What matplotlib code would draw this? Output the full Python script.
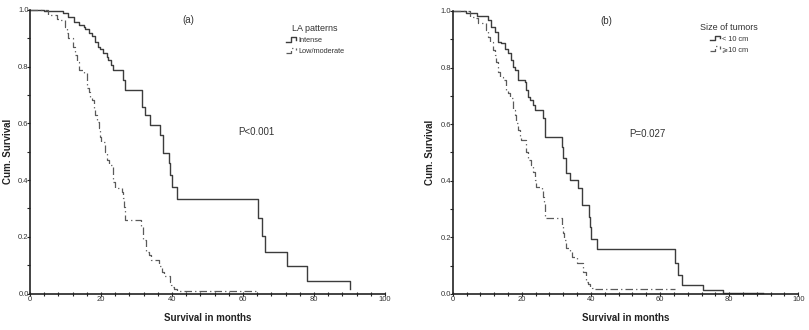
import matplotlib
matplotlib.use("Agg")
import matplotlib.pyplot as plt
from matplotlib.lines import Line2D
from matplotlib.legend_handler import HandlerBase
from matplotlib.ticker import MultipleLocator

plt.rcParams['font.family'] = ['Liberation Sans', 'DejaVu Sans']

# Panel (a): LA patterns, Kaplan-Meier steps (month, survival after the drop)
a_intense_t = [0, 3.8, 9.4, 10.8, 12.5, 13.7, 15.1, 15.5, 16.5, 17.4, 18.2, 19.1, 19.8,
               20.7, 21.7, 22.1, 22.9, 23.5, 26.1, 26.7, 31.5, 32.5, 33.9, 36.7, 37.6,
               39.1, 39.5, 40.0, 41.4, 64.2, 65.3, 66.2, 72.5, 78.0, 90.2]
a_intense_s = [1.0, 0.995, 0.988, 0.976, 0.959, 0.947, 0.941, 0.932, 0.918, 0.908, 0.888,
               0.871, 0.862, 0.847, 0.835, 0.823, 0.806, 0.788, 0.753, 0.718, 0.659, 0.630,
               0.594, 0.559, 0.497, 0.459, 0.418, 0.377, 0.333, 0.265, 0.203, 0.145, 0.096,
               0.045, 0.015]

a_low_t = [0, 5.2, 7.5, 8.5, 9.9, 10.4, 10.8, 12.2, 12.7, 13.2, 13.7, 15.1, 16.0, 16.5,
           17.0, 17.4, 17.9, 18.4, 18.8, 19.3, 19.8, 20.0, 21.2, 21.6, 22.3, 23.3, 23.5,
           23.8, 25.9, 26.1, 26.5, 26.8, 31.4, 31.7, 32.7, 33.4, 34.2, 36.3, 37.2, 37.7,
           39.5, 39.7, 39.9, 40.5, 41.4, 64.0]
a_low_s = [1.0, 0.982, 0.970, 0.965, 0.941, 0.918, 0.900, 0.871, 0.842, 0.818, 0.788,
           0.777, 0.724, 0.712, 0.694, 0.683, 0.647, 0.630, 0.606, 0.583, 0.553, 0.535,
           0.500, 0.471, 0.453, 0.424, 0.394, 0.371, 0.359, 0.336, 0.306, 0.259, 0.233,
           0.189, 0.148, 0.136, 0.118, 0.097, 0.077, 0.060, 0.042, 0.030, 0.024, 0.015,
           0.010, 0.010]

# Panel (b): size of tumors
b_small_t = [0, 3.9, 6.9, 10.2, 11.2, 12.2, 13.1, 14.1, 15.1, 16.0, 17.0, 17.5, 17.9,
             18.9, 20.8, 21.3, 21.8, 22.3, 23.3, 23.7, 26.1, 26.6, 26.8, 31.5, 31.9, 32.9,
             33.9, 36.2, 37.4, 39.3, 39.6, 39.9, 41.7, 64.4, 65.3, 66.3, 72.5, 78.1, 89.8]
b_small_s = [1.0, 0.992, 0.982, 0.968, 0.945, 0.927, 0.892, 0.886, 0.865, 0.850, 0.827,
             0.803, 0.792, 0.756, 0.750, 0.721, 0.697, 0.686, 0.668, 0.650, 0.621, 0.591,
             0.556, 0.520, 0.479, 0.426, 0.403, 0.373, 0.314, 0.273, 0.238, 0.194, 0.159,
             0.108, 0.067, 0.032, 0.014, 0.003, 0.003]

b_large_t = [0, 4.9, 6.4, 7.3, 9.7, 10.2, 10.7, 11.7, 12.2, 12.6, 13.1, 13.6, 14.6, 15.5,
             16.0, 16.5, 17.5, 17.9, 18.4, 18.9, 19.4, 19.9, 21.3, 21.8, 22.6, 23.3, 23.9,
             24.2, 25.7, 26.1, 26.4, 26.8, 31.5, 31.9, 32.2, 32.9, 33.9, 34.5, 36.1, 37.6,
             38.7, 39.1, 39.6, 40.3, 40.8, 64.3]
b_large_s = [1.0, 0.980, 0.974, 0.959, 0.933, 0.909, 0.892, 0.862, 0.845, 0.821, 0.786,
             0.768, 0.756, 0.721, 0.709, 0.691, 0.650, 0.633, 0.603, 0.580, 0.556, 0.544,
             0.503, 0.473, 0.456, 0.432, 0.403, 0.379, 0.367, 0.344, 0.326, 0.267, 0.244,
             0.214, 0.191, 0.161, 0.150, 0.132, 0.108, 0.079, 0.043, 0.035, 0.025, 0.020,
             0.016, 0.016]


class StepHandler(HandlerBase):
    # small step icon like the SPSS legend
    def create_artists(self, legend, orig_handle, xdescent, ydescent, width, height,
                       fontsize, trans):
        x0, y0 = -xdescent, -ydescent
        xs = [x0, x0 + 0.45 * width, x0 + 0.45 * width, x0 + 0.85 * width, x0 + 0.85 * width]
        ys = [y0 + 0.15 * height, y0 + 0.15 * height, y0 + 0.9 * height, y0 + 0.9 * height,
              y0 + 0.55 * height]
        ln = Line2D(xs, ys)
        ln.update_from(orig_handle)
        ln.set_data(xs, ys)
        ln.set_transform(trans)
        return [ln]


solid_kw = dict(color="#3c3c3c", lw=1.0, where="post", clip_on=False)
dash_kw = dict(color="#5a5a5a", lw=0.9, where="post", clip_on=False,
               linestyle=(0, (6, 2.5, 1, 2.5)))

fig = plt.figure(figsize=(8.09, 3.30), dpi=100)
ax_a = fig.add_axes([0.0371, 0.1106, 0.4388, 0.8591])
ax_b = fig.add_axes([0.5596, 0.1091, 0.4272, 0.8576])

panels = [
    (ax_a, a_intense_t, a_intense_s, a_low_t, a_low_s, "(a)", "LA patterns",
     ["Intense", "Low/moderate"], "P<0.001", (0.638, 0.57), (0.803, 0.962)),
    (ax_b, b_small_t, b_small_s, b_large_t, b_large_s, "(b)", "Size of tumors",
     ["< 10 cm", "\u2a7e10 cm"], "P=0.027", (0.562, 0.565), (0.80, 0.972)),
]

for ax, t1, s1, t2, s2, tag, ltitle, labels, ptxt, ppos, lpos in panels:
    l1, = ax.step(t1, s1, **solid_kw)
    l2, = ax.step(t2, s2, **dash_kw)

    ax.set_xlim(0, 100)
    ax.set_ylim(0, 1.0)
    ax.spines["top"].set_visible(False)
    ax.spines["right"].set_visible(False)
    for sp in ("left", "bottom"):
        ax.spines[sp].set_linewidth(1.2)
        ax.spines[sp].set_color("#222222")

    ax.xaxis.set_major_locator(MultipleLocator(20))
    ax.xaxis.set_minor_locator(MultipleLocator(4))
    ax.yaxis.set_major_locator(MultipleLocator(0.2))
    ax.yaxis.set_minor_locator(MultipleLocator(0.1))
    ax.set_yticks([0, 0.2, 0.4, 0.6, 0.8, 1.0])
    ax.set_yticklabels(["0.0", "0.2", "0.4", "0.6", "0.8", "1.0"])
    ax.tick_params(axis="x", which="both", direction="inout", length=3.5, width=0.8,
                   labelsize=5.5, pad=0, colors="#222222", labelcolor="#333333")
    ax.tick_params(axis="x", which="minor", length=2.5)
    ax.tick_params(axis="y", which="both", direction="out", length=2, width=0.8,
                   labelsize=5.5, pad=-1, colors="#222222", labelcolor="#333333")

    ax.set_xlabel("Survival in months", fontsize=7, fontweight="bold", labelpad=7,
                  color="#222222")
    ax.set_ylabel("Cum. Survival", fontsize=7, fontweight="bold", labelpad=4,
                  color="#222222")

    ax.text(0.445, 0.965, tag, transform=ax.transAxes, fontsize=7, ha="center",
            va="center", color="#333333")
    ax.text(ppos[0], ppos[1], ptxt, transform=ax.transAxes, fontsize=7, ha="center",
            va="center", color="#333333")

    leg = ax.legend([l1, l2], labels, title=ltitle, loc="upper center",
                    bbox_to_anchor=lpos, frameon=False, fontsize=5.3,
                    title_fontsize=6.5, handlelength=1.5, handleheight=0.9,
                    handletextpad=0.1, labelspacing=0.45, borderpad=0,
                    handler_map={Line2D: StepHandler()})
    for txt in leg.get_texts():
        txt.set_color("#333333")
    leg.get_title().set_color("#333333")

fig.savefig("out.png", dpi=100)
